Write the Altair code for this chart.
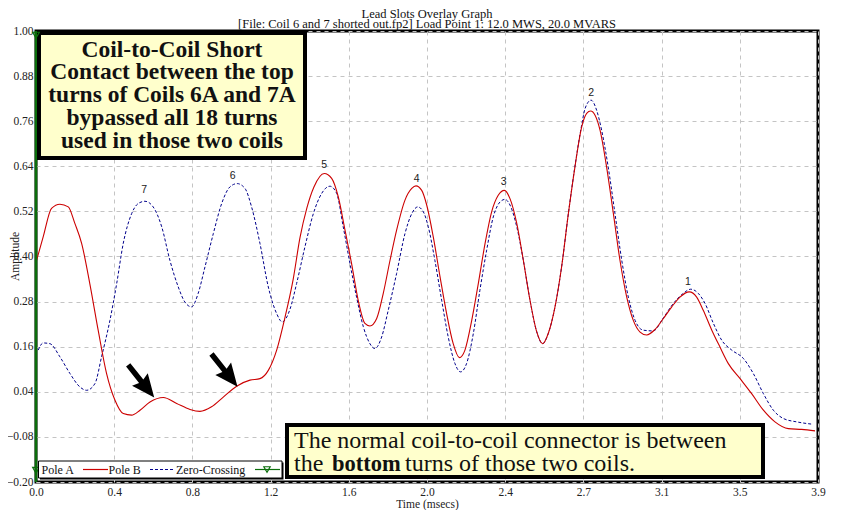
import altair as alt
import pandas as pd

title_text = "Lead Slots Overlay Graph"
subtitle_text = "[File: Coil 6 and 7 shorted out.fp2]  Load Point 1:  12.0 MWS,  20.0 MVARS"

# Pole B (red solid)
pole_b_time = [0.003, 0.036, 0.078, 0.12, 0.162, 0.195, 0.229, 0.27, 0.312, 0.354,
               0.396, 0.438, 0.48, 0.522, 0.572, 0.639, 0.706, 0.773, 0.823, 0.881,
               0.94, 1.007, 1.074, 1.124, 1.166, 1.208, 1.25, 1.291, 1.325, 1.36,
               1.395, 1.447, 1.484, 1.517, 1.551, 1.584, 1.617, 1.651, 1.676, 1.71,
               1.743, 1.777, 1.81, 1.852, 1.886, 1.907, 1.936, 1.961, 1.994, 2.028,
               2.061, 2.094, 2.125, 2.153, 2.187, 2.22, 2.254, 2.287, 2.32, 2.351,
               2.379, 2.413, 2.446, 2.479, 2.513, 2.543, 2.571, 2.605, 2.638, 2.672,
               2.705, 2.739, 2.764, 2.784, 2.806, 2.831, 2.864, 2.898, 2.931, 2.965,
               2.998, 3.032, 3.065, 3.107, 3.149, 3.191, 3.232, 3.279, 3.316, 3.349,
               3.392, 3.433, 3.475, 3.534, 3.592, 3.651, 3.709, 3.776, 3.843, 3.91]
pole_b_amp = [0.390, 0.452, 0.528, 0.539, 0.532, 0.488, 0.435, 0.328, 0.204, 0.089,
              0.018, -0.018, -0.022, -0.009, 0.013, 0.025, 0.009, -0.007, -0.012, 0.000,
              0.026, 0.055, 0.071, 0.075, 0.097, 0.151, 0.239, 0.340, 0.450, 0.530,
              0.585, 0.621, 0.608, 0.559, 0.470, 0.381, 0.284, 0.222, 0.215, 0.235,
              0.302, 0.390, 0.470, 0.550, 0.581, 0.588, 0.576, 0.537, 0.452, 0.346,
              0.248, 0.168, 0.131, 0.151, 0.230, 0.328, 0.435, 0.519, 0.563, 0.576,
              0.554, 0.488, 0.390, 0.285, 0.200, 0.168, 0.195, 0.266, 0.372, 0.514,
              0.638, 0.745, 0.781, 0.787, 0.776, 0.736, 0.638, 0.514, 0.390, 0.292,
              0.230, 0.199, 0.191, 0.206, 0.235, 0.266, 0.292, 0.306, 0.292, 0.257,
              0.204, 0.159, 0.115, 0.075, 0.035, -0.009, -0.040, -0.058, -0.060, -0.064]

# Zero-Crossing (blue dashed)
zero_time = [0.011, 0.036, 0.07, 0.12, 0.17, 0.22, 0.254, 0.296, 0.329, 0.371,
             0.405, 0.438, 0.48, 0.513, 0.547, 0.588, 0.631, 0.672, 0.714, 0.747,
             0.781, 0.814, 0.848, 0.89, 0.932, 0.973, 1.01, 1.049, 1.082, 1.124,
             1.166, 1.208, 1.236, 1.275, 1.308, 1.35, 1.392, 1.434, 1.475, 1.509,
             1.542, 1.576, 1.609, 1.643, 1.676, 1.701, 1.735, 1.768, 1.81, 1.852,
             1.886, 1.916, 1.944, 1.969, 2.002, 2.036, 2.069, 2.103, 2.131, 2.161,
             2.195, 2.228, 2.262, 2.295, 2.329, 2.354, 2.379, 2.413, 2.446, 2.479,
             2.513, 2.543, 2.571, 2.605, 2.638, 2.672, 2.705, 2.739, 2.756, 2.786,
             2.814, 2.839, 2.872, 2.906, 2.94, 2.973, 3.007, 3.048, 3.098, 3.149,
             3.199, 3.249, 3.286, 3.324, 3.358, 3.4, 3.442, 3.492, 3.55, 3.6,
             3.651, 3.701, 3.751, 3.818, 3.893]
zero_amp = [0.151, 0.170, 0.168, 0.133, 0.089, 0.053, 0.044, 0.062, 0.133, 0.230,
            0.328, 0.435, 0.514, 0.541, 0.547, 0.532, 0.479, 0.390, 0.319, 0.279,
            0.266, 0.302, 0.372, 0.461, 0.541, 0.585, 0.594, 0.581, 0.532, 0.435,
            0.319, 0.248, 0.226, 0.260, 0.328, 0.426, 0.514, 0.568, 0.587, 0.568,
            0.479, 0.381, 0.292, 0.213, 0.168, 0.155, 0.186, 0.257, 0.355, 0.461,
            0.514, 0.532, 0.519, 0.479, 0.390, 0.284, 0.186, 0.115, 0.093, 0.115,
            0.195, 0.310, 0.417, 0.505, 0.545, 0.552, 0.537, 0.479, 0.390, 0.285,
            0.200, 0.168, 0.195, 0.266, 0.372, 0.514, 0.640, 0.750, 0.794, 0.816,
            0.789, 0.736, 0.638, 0.514, 0.390, 0.292, 0.230, 0.204, 0.202, 0.237,
            0.275, 0.302, 0.313, 0.302, 0.275, 0.222, 0.177, 0.151, 0.129, 0.089,
            0.035, -0.009, -0.031, -0.040, -0.046]

peak_names = ["7", "6", "5", "4", "3", "2", "1"]
peak_time = [0.543, 0.987, 1.447, 1.911, 2.347, 2.786, 3.272]
peak_amp = [0.576, 0.614, 0.643, 0.605, 0.599, 0.836, 0.332]

pole_a_time = [0.0, 0.0]
pole_a_amp = [0.989, -0.169]

x_tick_values = [0.0, 0.3925, 0.785, 1.1775, 1.57, 1.9625, 2.355, 2.7475, 3.14, 3.5325, 3.925]
y_tick_values = [-0.20, -0.08, 0.04, 0.16, 0.28, 0.40, 0.52, 0.64, 0.76, 0.88, 1.00]

box1_lines = ["Coil-to-Coil Short", "Contact between the top", "turns of Coils 6A and 7A",
              "bypassed all 18 turns", "used in those two coils"]
box2_line1 = "The normal coil-to-coil connector is between"
box2_line2 = ["the", "bottom", "turns of those two coils."]
legend_labels = ["Pole A", "Pole B", "Zero-Crossing"]

SERIF = "Liberation Serif"
RED = "#cc0000"
BLUE = "#00008b"
GREEN = "#0b6e0b"
YELLOW = "#ffffcc"

xs = alt.Scale(domain=[0, 3.925], nice=False, zero=False)
ys = alt.Scale(domain=[-0.2, 1.0], nice=False, zero=False)

one = pd.DataFrame({"a": [0]})

red_df = pd.DataFrame({"t": pole_b_time, "v": pole_b_amp})
blue_df = pd.DataFrame({"t": zero_time, "v": zero_amp})
peak_df = pd.DataFrame({"t": peak_time, "v": peak_amp, "name": peak_names})
pa_df = pd.DataFrame({"t": pole_a_time, "v": pole_a_amp})

x_axis = alt.Axis(values=x_tick_values, format=".1f", grid=True, gridDash=[4, 4], gridColor="#c4c4c4",
                  ticks=False, domain=False, labelFont=SERIF, labelFontSize=11.5, labelColor="#222",
                  labelPadding=4, labelFlush=False, labelOverlap=False,
                  title="Time (msecs)", titleFont=SERIF, titleFontSize=11.5, titleFontWeight="normal",
                  titleColor="#222", titleBaseline="alphabetic", titleY=25)
y_axis = alt.Axis(values=y_tick_values, format=".2f", grid=True, gridDash=[4, 4], gridColor="#c4c4c4",
                  ticks=False, domain=False, labelFont=SERIF, labelFontSize=11.5, labelColor="#222",
                  labelPadding=3, labelFlush=False, labelOverlap=False,
                  title="Amplitude", titleFont=SERIF, titleFontSize=11.5, titleFontWeight="normal",
                  titleColor="#222", titleBaseline="bottom", titleX=-16, titleY=225)

X = alt.X("t:Q", scale=xs, axis=x_axis)
Y = alt.Y("v:Q", scale=ys, axis=y_axis)

layers = []

blue = alt.Chart(blue_df).mark_line(color=BLUE, strokeWidth=1, strokeDash=[3, 2], interpolate="monotone").encode(
    x=X, y=Y)
layers.append(blue)

red = alt.Chart(red_df).mark_line(color=RED, strokeWidth=1.1, interpolate="monotone").encode(x=X, y=Y)
layers.append(red)

labels = alt.Chart(peak_df).mark_text(font="Liberation Sans", fontSize=10.5, color="#222", baseline="middle").encode(
    x=X, y=Y, text="name:N")
layers.append(labels)

# green Pole A line at left edge
layers.append(alt.Chart(one).mark_rule(color=GREEN, strokeWidth=2.5).encode(
    x=alt.value(0), y=alt.value(0), y2=alt.value(451)))

# titles
layers.append(alt.Chart(one).mark_text(text=title_text, font=SERIF, fontSize=12.5, color="#111",
                                       baseline="alphabetic", align="center").encode(
    x=alt.value(391), y=alt.value(-13.5)))
layers.append(alt.Chart(one).mark_text(text=subtitle_text, font=SERIF, fontSize=12.5, color="#111",
                                       baseline="alphabetic", align="center").encode(
    x=alt.value(391), y=alt.value(-3.5)))

# arrows
arrow_path = "M0,1 L-0.48,-0.1 L-0.13,0.0 L-0.13,-1 L0.13,-1 L0.13,0.0 L0.48,-0.1 Z"
for ax_, ay_ in [(105.2, 350.2), (188.5, 339.4)]:
    layers.append(alt.Chart(one).mark_point(shape=arrow_path, filled=True, color="black", opacity=1,
                                            size=1750, angle=321.5, strokeWidth=0).encode(
        x=alt.value(ax_), y=alt.value(ay_)))

# box 1
layers.append(alt.Chart(one).mark_rect(fill=YELLOW, stroke="black", strokeWidth=4).encode(
    x=alt.value(3), x2=alt.value(269), y=alt.value(2), y2=alt.value(127)))
for i, line in enumerate(box1_lines):
    layers.append(alt.Chart(one).mark_text(text=line, font=SERIF, fontSize=23.5, fontWeight="bold",
                                           color="#111", baseline="alphabetic", align="center").encode(
        x=alt.value(136), y=alt.value(25.5 + 22.75 * i)))

# Pole A markers (drawn over the box edge)
layers.append(alt.Chart(pa_df).mark_point(shape="triangle-down", filled=False, color=GREEN, size=45,
                                          strokeWidth=1.2, opacity=1).encode(x=X, y=Y))

# box 2
layers.append(alt.Chart(one).mark_rect(fill=YELLOW, stroke="black", strokeWidth=4).encode(
    x=alt.value(251), x2=alt.value(727), y=alt.value(394), y2=alt.value(446)))
layers.append(alt.Chart(one).mark_text(text=box2_line1, font=SERIF, fontSize=24, color="#111",
                                       baseline="alphabetic", align="left").encode(
    x=alt.value(258), y=alt.value(417.3)))
for seg, sx, wt, fs in [(box2_line2[0], 258, "normal", 24), (box2_line2[1], 296, "bold", 22.5),
                        (box2_line2[2], 369, "normal", 24)]:
    layers.append(alt.Chart(one).mark_text(text=seg, font=SERIF, fontSize=fs, fontWeight=wt, color="#111",
                                           baseline="alphabetic", align="left").encode(
        x=alt.value(sx), y=alt.value(440)))

# legend box
layers.append(alt.Chart(one).mark_rect(fill="black").encode(
    x=alt.value(4), x2=alt.value(247.5), y=alt.value(431.5), y2=alt.value(448.5)))
layers.append(alt.Chart(one).mark_rect(fill="white", stroke="black", strokeWidth=1).encode(
    x=alt.value(2.5), x2=alt.value(246), y=alt.value(430), y2=alt.value(447)))
for lab, lx in zip(legend_labels, [5.5, 72.5, 140]):
    layers.append(alt.Chart(one).mark_text(text=lab, font=SERIF, fontSize=12, color="#111",
                                           baseline="middle", align="left").encode(
        x=alt.value(lx), y=alt.value(439)))
layers.append(alt.Chart(one).mark_rule(color=RED, strokeWidth=1.2).encode(
    x=alt.value(47), x2=alt.value(72), y=alt.value(438.5)))
layers.append(alt.Chart(one).mark_rule(color=BLUE, strokeWidth=1.2, strokeDash=[3, 2]).encode(
    x=alt.value(114), x2=alt.value(137), y=alt.value(438.5)))
layers.append(alt.Chart(one).mark_rule(color=GREEN, strokeWidth=1.2).encode(
    x=alt.value(219), x2=alt.value(244), y=alt.value(438.5)))
layers.append(alt.Chart(one).mark_point(shape="triangle-down", filled=False, color=GREEN, size=40,
                                        strokeWidth=1.2, opacity=1).encode(
    x=alt.value(231), y=alt.value(438.5)))

chart = alt.layer(*layers).properties(
    width=782, height=451,
    padding={"left": 28, "top": 23, "right": 12, "bottom": 28},
    autosize=alt.AutoSizeParams(type="none"),
    background="white",
).configure_view(stroke="black", strokeWidth=3)

chart.save("out.html", embed_options={"renderer": "svg", "actions": False})
